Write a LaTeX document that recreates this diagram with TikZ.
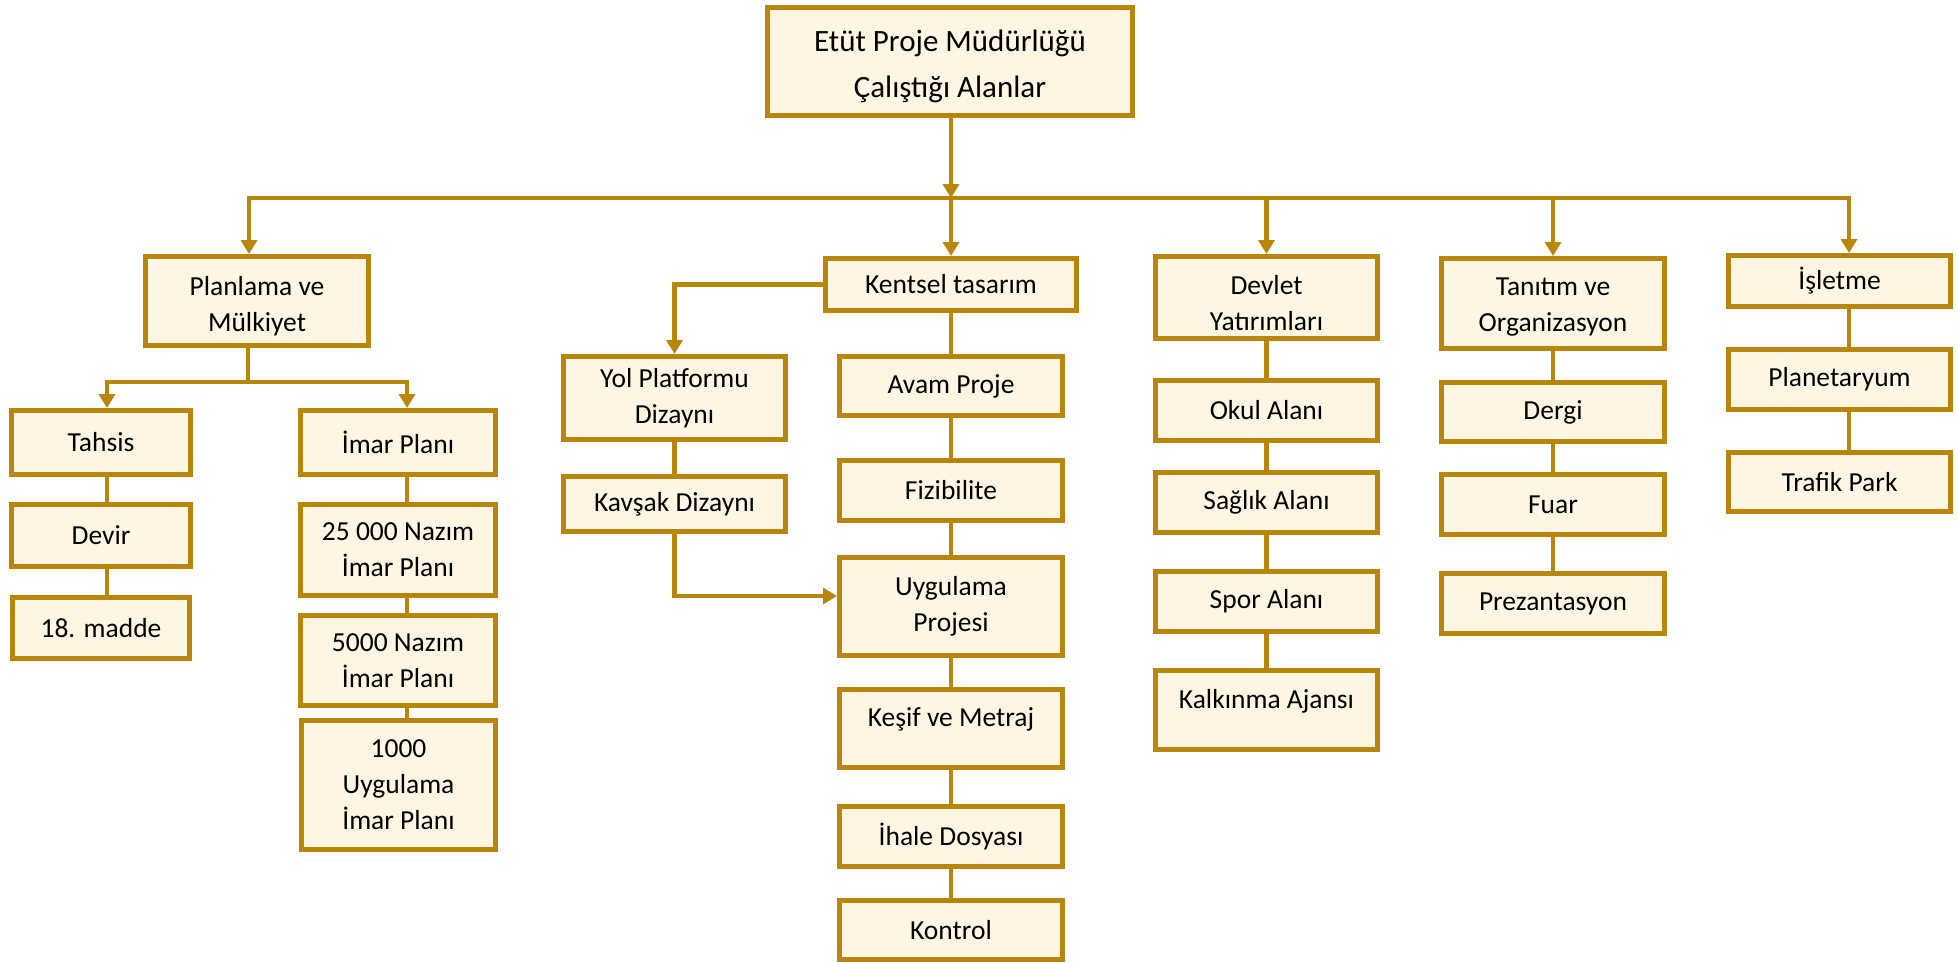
\documentclass[tikz,border=0pt]{standalone}
\usepackage{fontspec}
\setmainfont{Carlito}
\usepackage{xcolor}
\usepackage{tikz}
\usetikzlibrary{arrows.meta}
\definecolor{altin}{HTML}{B8860B}
\definecolor{krem}{HTML}{FEF6E2}
\newcommand{\ustpay}[1]{\rule{0pt}{#1}}

\begin{document}
\begin{tikzpicture}[x=1pt, y=-1pt, >={Triangle[width=16pt,length=14pt]},
  kutu/.style={draw=altin, fill=krem, line width=5pt, inner sep=0pt, align=center,
    font=\fontsize{27.5}{36}\selectfont},
  hat/.style={draw=altin, line width=4.5pt}]
  \useasboundingbox (0,0) rectangle (1957,962);

  % Ana kutu
  \node[kutu, minimum width=365, minimum height=108, font=\fontsize{31}{46}\selectfont]
    (ana) at (950,61.5) {\ustpay{31pt}Etüt Proje Müdürlüğü\\Çalıştığı Alanlar};

  % Planlama ve Mülkiyet
  \node[kutu, minimum width=223, minimum height=89] (planlama) at (257,301) {\ustpay{30pt}Planlama ve\\Mülkiyet};
  \node[kutu, minimum width=179, minimum height=64] (tahsis) at (101,442.5) {Tahsis};
  \node[kutu, minimum width=179, minimum height=62] (devir) at (101,535.5) {Devir};
  \node[kutu, minimum width=177, minimum height=61] (madde) at (101,628) {18. madde};
  \node[kutu, minimum width=195, minimum height=64] (imar) at (398,442.5) {İmar Planı};
  \node[kutu, minimum width=195, minimum height=91] (nazimA) at (398,550) {25 000 Nazım\\İmar Planı};
  \node[kutu, minimum width=195, minimum height=90] (nazimB) at (398,660.5) {5000 Nazım\\İmar Planı};
  \node[kutu, minimum width=194, minimum height=129] (uygimar) at (398.5,785) {1000\\Uygulama\\İmar Planı};

  % Kentsel tasarım
  \node[kutu, minimum width=251, minimum height=52] (kentsel) at (951,284.5) {Kentsel tasarım};
  \node[kutu, minimum width=222, minimum height=83] (yol) at (674.5,398) {Yol Platformu\\Dizaynı};
  \node[kutu, minimum width=222, minimum height=55] (kavsak) at (674.5,504) {Kavşak Dizaynı};
  \node[kutu, minimum width=223, minimum height=59] (avam) at (951,386) {Avam Proje};
  \node[kutu, minimum width=223, minimum height=60] (fizibilite) at (951,490.5) {Fizibilite};
  \node[kutu, minimum width=223, minimum height=98] (uygulama) at (951,606.5) {Uygulama\\Projesi};
  \node[kutu, minimum width=223, minimum height=78] (kesif) at (951,728.5) {Keşif ve Metraj\\[-24.5pt]\strut};
  \node[kutu, minimum width=223, minimum height=60] (ihale) at (951,836.5) {İhale Dosyası};
  \node[kutu, minimum width=223, minimum height=59] (kontrol) at (951,930) {Kontrol};

  % Devlet Yatırımları
  \node[kutu, minimum width=222, minimum height=82] (devlet) at (1266.5,297.5) {\ustpay{31pt}Devlet\\Yatırımları};
  \node[kutu, minimum width=222, minimum height=60] (okul) at (1266.5,410.5) {Okul Alanı};
  \node[kutu, minimum width=222, minimum height=60] (saglik) at (1266.5,502.5) {Sağlık Alanı};
  \node[kutu, minimum width=222, minimum height=60] (spor) at (1266.5,601.5) {Spor Alanı};
  \node[kutu, minimum width=222, minimum height=79] (kalkinma) at (1266.5,710) {Kalkınma Ajansı\\[-24.5pt]\strut};

  % Tanıtım ve Organizasyon
  \node[kutu, minimum width=223, minimum height=90] (tanitim) at (1553,303.5) {\ustpay{24pt}Tanıtım ve\\Organizasyon};
  \node[kutu, minimum width=223, minimum height=59] (dergi) at (1553,412) {Dergi};
  \node[kutu, minimum width=223, minimum height=60] (fuar) at (1553,504.5) {Fuar};
  \node[kutu, minimum width=223, minimum height=60] (prezantasyon) at (1553,603.5) {Prezantasyon};

  % İşletme
  \node[kutu, minimum width=222, minimum height=51] (isletme) at (1839.5,281) {İşletme};
  \node[kutu, minimum width=222, minimum height=60] (planetaryum) at (1839.5,379.5) {Planetaryum};
  \node[kutu, minimum width=222, minimum height=59] (trafik) at (1839.5,482) {Trafik Park};

  % Dağıtım hattı
  \coordinate (bus) at (951,198);
  \coordinate (kolP) at (249,0);
  \coordinate (kolI) at (1849,0);
  \draw[hat, ->] (ana.south -| bus) -- (bus);
  \draw[hat, ->] (bus) -| (planlama.north -| kolP);
  \draw[hat, ->] (bus) -| (isletme.north -| kolI);
  \draw[hat, ->] (bus) -- (kentsel.north);
  \draw[hat, ->] (bus -| devlet.north) -- (devlet.north);
  \draw[hat, ->] (bus -| tanitim.north) -- (tanitim.north);

  % Planlama dalları
  \coordinate (dal) at (248,382);
  \coordinate (kolT) at (107,0);
  \coordinate (kolM) at (407,0);
  \draw[hat] (planlama.south -| dal) -- (dal);
  \draw[hat, ->] (dal) -| (tahsis.north -| kolT);
  \draw[hat, ->] (dal) -| (imar.north -| kolM);
  \foreach \a/\b in {tahsis/devir, devir/madde}
    \draw[hat] (\a.south -| kolT) -- (\b.north -| kolT);
  \foreach \a/\b in {imar/nazimA, nazimA/nazimB, nazimB/uygimar}
    \draw[hat] (\a.south -| kolM) -- (\b.north -| kolM);

  % Kentsel dalları
  \draw[hat, ->] (kentsel.west) -| (yol.north);
  \draw[hat] (yol) -- (kavsak);
  \draw[hat, ->] (kavsak.south) |- ([yshift=10.5pt]uygulama.west);
  \foreach \a/\b in {kentsel/avam, avam/fizibilite, fizibilite/uygulama,
                     uygulama/kesif, kesif/ihale, ihale/kontrol}
    \draw[hat] (\a.south) -- (\b.north);

  % Diğer sütunlar
  \foreach \a/\b in {devlet/okul, okul/saglik, saglik/spor, spor/kalkinma,
                     tanitim/dergi, dergi/fuar, fuar/prezantasyon}
    \draw[hat] (\a.south) -- (\b.north);
  \foreach \a/\b in {isletme/planetaryum, planetaryum/trafik}
    \draw[hat] (\a.south -| kolI) -- (\b.north -| kolI);
\end{tikzpicture}
\end{document}
